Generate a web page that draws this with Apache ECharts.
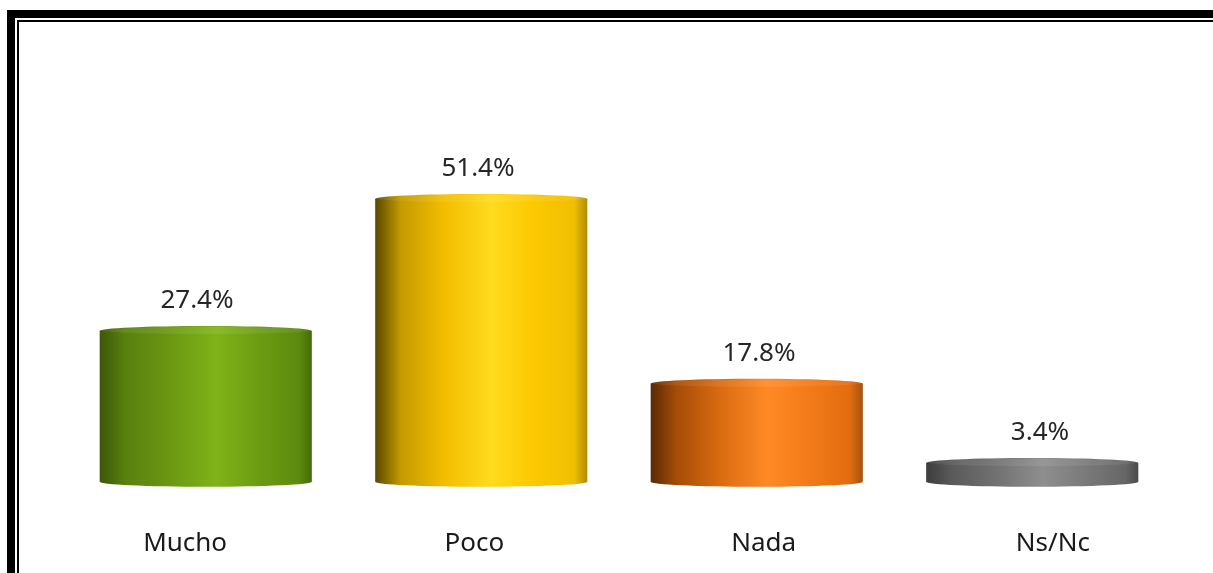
<!DOCTYPE html>
<html>
<head>
<meta charset="utf-8">
<script src="https://cdn.jsdelivr.net/npm/echarts@6/dist/echarts.min.js"></script>
<style>
html,body{margin:0;padding:0;background:#fff;}
#chart{width:1213px;height:573px;}
</style>
</head>
<body>
<div id="chart"></div>
<script>
const categories = ['Mucho', 'Poco', 'Nada', 'Ns/Nc'];
const values = [27.4, 51.4, 17.8, 3.4];
const valueLabels = ['27.4%', '51.4%', '17.8%', '3.4%'];

const palettes = [
  ['#3d5708', '#58800e', '#6a9612', '#7fb318', '#6c9c12', '#5c8a0e', '#466a08'],
  ['#5a4800', '#c39a00', '#f2bd00', '#ffdb1e', '#fcc800', '#f0bf00', '#b08a00'],
  ['#5a2a05', '#a44c08', '#d86a10', '#ff8a25', '#f27a18', '#e26c10', '#a45210'],
  ['#3c3c3c', '#5a5a5a', '#707070', '#8e8e8e', '#7a7a7a', '#666666', '#4a4a4a']
];
const stopsPos = [0, 0.12, 0.32, 0.55, 0.75, 0.94, 1];

function grad(cols) {
  return {type: 'linear', x: 0, y: 0, x2: 1, y2: 0,
    colorStops: cols.map((c, i) => ({offset: stopsPos[i], color: c}))};
}

const TOP = 151.7, BOTTOM = 91.3;
const chart = echarts.init(document.getElementById('chart'));
const option = {
  backgroundColor: '#fff',
  animation: false,
  grid: [
    {left: 68, right: 43, top: TOP, bottom: BOTTOM},
    {left: 40.5, right: 15.5, top: TOP, bottom: BOTTOM},
    {left: 56.5, right: 32.5, top: TOP, bottom: BOTTOM}
  ],
  xAxis: [
    {gridIndex: 0, type: 'category', data: categories, show: false},
    {gridIndex: 1, type: 'category', data: categories,
      axisLine: {show: false}, axisTick: {show: false},
      axisLabel: {margin: 49, fontSize: 26, fontFamily: 'Noto Sans', color: '#1a1a1a'}},
    {gridIndex: 2, type: 'category', data: categories, show: false}
  ],
  yAxis: [
    {gridIndex: 0, type: 'value', min: 0, max: 60, show: false},
    {gridIndex: 1, type: 'value', min: 0, max: 60, show: false},
    {gridIndex: 2, type: 'value', min: 0, max: 60, show: false}
  ],
  graphic: [
    {type: 'rect', shape: {x: 7, y: 10, width: 8, height: 563}, style: {fill: '#000'}},
    {type: 'rect', shape: {x: 7, y: 10, width: 1206, height: 8}, style: {fill: '#000'}},
    {type: 'rect', shape: {x: 17, y: 20, width: 2, height: 553}, style: {fill: '#000'}},
    {type: 'rect', shape: {x: 17, y: 20, width: 1196, height: 2}, style: {fill: '#000'}}
  ],
  series: [{
    type: 'custom',
    xAxisIndex: 0, yAxisIndex: 0,
    data: values.map((v, i) => [i, v]),
    renderItem: function (params, api) {
      const idx = params.dataIndex;
      const top = api.coord([api.value(0), api.value(1)]);
      const base = api.coord([api.value(0), 0]);
      const w = api.size([1, 0])[0] * 0.77;
      const cx = top[0];
      const ry = 5;
      const g = grad(palettes[idx]);
      return {
        type: 'group',
        children: [
          {type: 'ellipse', shape: {cx: cx, cy: base[1], rx: w / 2, ry: ry}, style: {fill: g}},
          {type: 'rect', shape: {x: cx - w / 2, y: top[1], width: w, height: base[1] - top[1]}, style: {fill: g}},
          {type: 'ellipse', shape: {cx: cx, cy: top[1], rx: w / 2, ry: ry}, style: {fill: g}},
          {type: 'ellipse', shape: {cx: cx, cy: top[1] - 0.5, rx: w / 2 - 1, ry: ry - 1.5}, style: {fill: 'rgba(255,255,255,0.08)'}}
        ]
      };
    }
  }, {
    type: 'bar',
    xAxisIndex: 2, yAxisIndex: 2,
    data: values,
    barWidth: 10,
    itemStyle: {color: 'rgba(0,0,0,0)'},
    label: {
      show: true, position: 'top', distance: 17,
      formatter: p => valueLabels[p.dataIndex],
      fontSize: 26, lineHeight: 26, fontFamily: 'Noto Sans', color: '#262626'
    },
    silent: true
  }]
};
chart.setOption(option);
</script>
</body>
</html>
